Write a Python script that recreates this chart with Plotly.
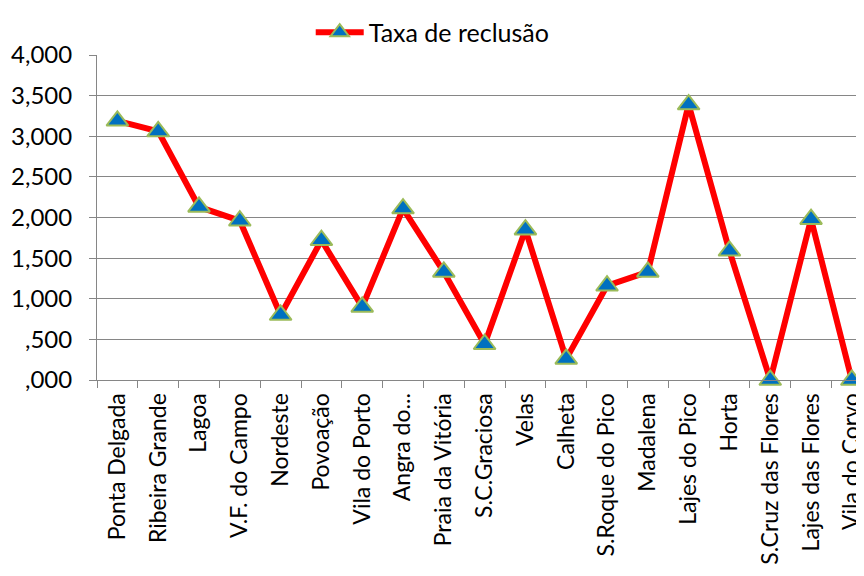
import plotly.graph_objects as go

# Concelhos dos Açores
concelhos = ['Ponta Delgada', 'Ribeira Grande', 'Lagoa', 'V.F. do Campo', 'Nordeste',
             'Povoação', 'Vila do Porto', 'Angra do...', 'Praia da Vitória', 'S.C.Graciosa',
             'Velas', 'Calheta', 'S.Roque do Pico', 'Madalena', 'Lajes do Pico',
             'Horta', 'S.Cruz das Flores', 'Lajes das Flores', 'Vila do Corvo']
taxa = [3.19, 3.06, 2.13, 1.96, 0.80,
        1.72, 0.90, 2.11, 1.33, 0.44,
        1.85, 0.26, 1.16, 1.33, 3.39,
        1.59, 0.00, 1.98, 0.00]

y_ticks = [0, 0.5, 1, 1.5, 2, 2.5, 3, 3.5, 4]
y_labels = [',000', ',500', '1,000', '1,500', '2,000', '2,500', '3,000', '3,500', '4,000']

fig = go.Figure(go.Scatter(
    x=concelhos,
    y=taxa,
    name='Taxa de reclusão',
    mode='lines+markers',
    line=dict(color='#FF0000', width=6),
    marker=dict(symbol='triangle-up', size=19, color='#0070C0',
                line=dict(color='#9BBB59', width=2)),
    cliponaxis=False,
))

fig.update_layout(
    width=856, height=568,
    paper_bgcolor='white', plot_bgcolor='white',
    font=dict(family='Lato, Open Sans, sans-serif', size=24, color='black'),
    margin=dict(l=89, r=0, t=47, b=196),
    showlegend=True,
    legend=dict(orientation='h', x=0.44, xanchor='center', y=1.14, yanchor='top',
                itemwidth=48, font=dict(size=25)),
    xaxis=dict(
        type='category', range=[-0.5, 18.2], tickangle=-90,
        showline=True, linecolor='#868686', linewidth=1,
        ticks='outside', tickson='boundaries', ticklen=7, tickcolor='#868686',
        showgrid=False, ticklabelstandoff=3, tickfont=dict(size=23),
    ),
    yaxis=dict(
        range=[0, 4], tickvals=y_ticks, ticktext=y_labels,
        showline=True, linecolor='#868686', linewidth=1,
        ticks='outside', ticklen=7, tickcolor='#868686',
        gridcolor='#868686', gridwidth=1, zeroline=False,
        ticklabelstandoff=12,
    ),
)

fig.write_html('out.html')
